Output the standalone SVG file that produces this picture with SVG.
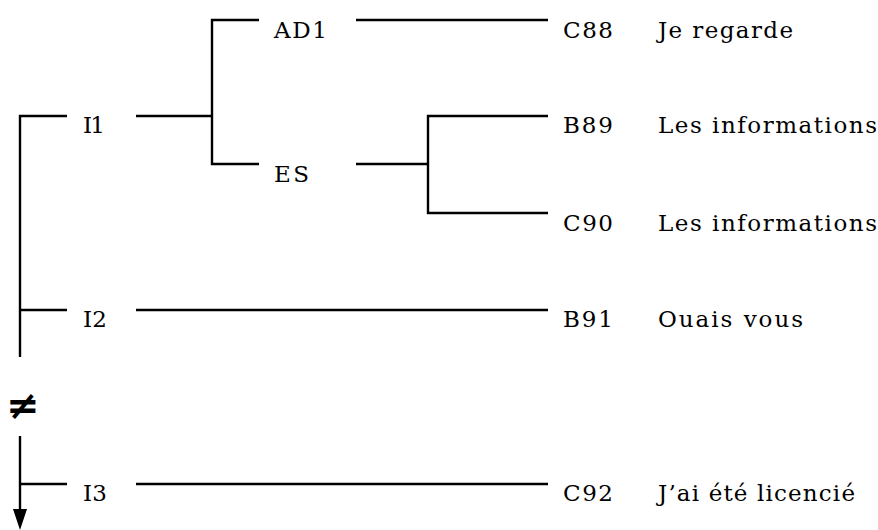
<svg xmlns="http://www.w3.org/2000/svg" width="878" height="530" viewBox="0 0 878 530">
<defs>
<style>
text{font-family:"DejaVu Serif",serif;font-size:23px;fill:#000;lengthAdjust:spacing}
.ln{stroke:#000;stroke-width:2.4;fill:none}
.ne{font-family:"DejaVu Sans",sans-serif;font-weight:bold;font-size:40px}
</style>
</defs>
<rect width="878" height="530" fill="#fff"/>
<g id="connectors">
<path class="ln" d="M20,357 V116 H67"/>
<path class="ln" d="M20,310 H67"/>
<path class="ln" d="M20,436 V509"/>
<path d="M13,509 L27,509 L20,530 Z" fill="#000"/>
<path class="ln" d="M20,484 H67"/>
<path class="ln" d="M136,116 H212"/>
<path class="ln" d="M259,20 H212 V164 H259"/>
<path class="ln" d="M356,20 H548"/>
<path class="ln" d="M356,164 H428"/>
<path class="ln" d="M548,116 H428 V213 H548"/>
<path class="ln" d="M136,310 H548"/>
<path class="ln" d="M136,484 H548"/>
</g>
<g id="I1"><text x="83" y="133" textLength="22">I1</text></g>
<g id="I2"><text x="83" y="327" textLength="24">I2</text></g>
<g id="I3"><text x="83" y="501" textLength="24">I3</text></g>
<g id="AD1"><text x="274" y="38" textLength="53">AD1</text></g>
<g id="ES"><text x="274" y="182" textLength="35">ES</text></g>
<g id="C88"><text x="563" y="38" textLength="50">C88</text><text x="658" y="38" textLength="135">Je regarde</text></g>
<g id="B89"><text x="563" y="133" textLength="50">B89</text><text x="658" y="133" textLength="219">Les informations</text></g>
<g id="C90"><text x="563" y="231" textLength="50">C90</text><text x="658" y="231" textLength="219">Les informations</text></g>
<g id="B91"><text x="563" y="327" textLength="50">B91</text><text x="658" y="327" textLength="145">Ouais vous</text></g>
<g id="C92"><text x="563" y="501" textLength="50">C92</text><text x="658" y="501" textLength="197">J’ai été licencié</text></g>
<g id="neq"><text class="ne" x="23" y="419" text-anchor="middle">≠</text></g>
</svg>
